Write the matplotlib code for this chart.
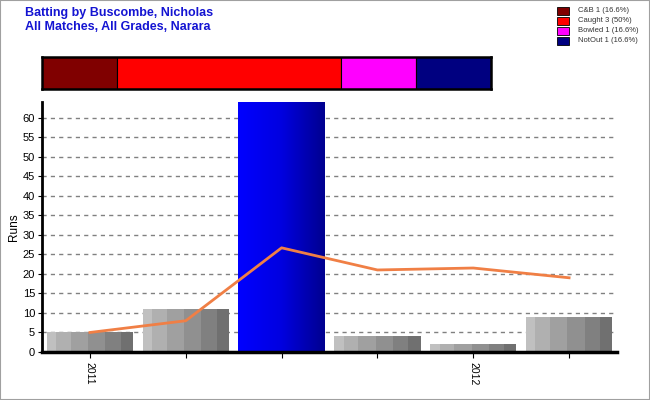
import numpy as np
import matplotlib
matplotlib.use("Agg")
import matplotlib.pyplot as plt
from matplotlib.patches import Rectangle
from matplotlib.colors import LinearSegmentedColormap, ListedColormap

plt.rcParams['font.family'] = ['Liberation Sans', 'DejaVu Sans']

# ---- data ----
innings_labels = ["2011", "", "", "", "2012", ""]
runs = [5, 11, 64, 4, 2, 9]
average = [5, 8, 26.67, 21, 21.5, 19]
dismissal_types = ["C&B", "Caught", "Bowled", "NotOut"]
dismissal_counts = [1, 3, 1, 1]
dismissal_pcts = ["16.6%", "50%", "16.6%", "16.6%"]
dismissal_colors = ["#800000", "#ff0000", "#ff00ff", "#000080"]
title_lines = ["Batting by Buscombe, Nicholas", "All Matches, All Grades, Narara"]

fig = plt.figure(figsize=(6.5, 4.0), dpi=100)
fig.patch.set_facecolor("white")
fig.add_artist(Rectangle((0, 0), 1, 1, transform=fig.transFigure, fill=False,
                         edgecolor="#a0a0a0", linewidth=1.5))

# ---- titles ----
title_font = ['Liberation Sans Narrow', 'Liberation Sans', 'DejaVu Sans']
fig.text(25/650, 1 - 13/400, title_lines[0], color="#1414d2", fontsize=9,
         fontweight="bold", family=title_font, va="center", ha="left")
fig.text(25/650, 1 - 27/400, title_lines[1], color="#1414d2", fontsize=9,
         fontweight="bold", family=title_font, va="center", ha="left")

# ---- legend ----
for i, (t, c, p, col) in enumerate(zip(dismissal_types, dismissal_counts, dismissal_pcts, dismissal_colors)):
    yc = 11 + i * 10
    fig.add_artist(Rectangle((557/650, 1 - (yc + 4)/400), 12/650, 8/400,
                             transform=fig.transFigure, facecolor=col,
                             edgecolor="black", linewidth=0.6))
    fig.text(578/650, 1 - yc/400, f"{t} {c} ({p})", fontsize=5.5,
             va="center", ha="left", color="#333333")

# ---- stacked dismissal bar ----
axs = fig.add_axes([42/650, 1 - 89/400, 449/650, 32/400])
left = 0
for c, col in zip(dismissal_counts, dismissal_colors):
    axs.barh(0, c, left=left, color=col, edgecolor="black", linewidth=0.8, height=1.0)
    left += c
axs.set_xlim(0, sum(dismissal_counts))
axs.set_ylim(-0.5, 0.5)
axs.set_xticks([]); axs.set_yticks([])
for s in axs.spines.values():
    s.set_linewidth(1.8)

# ---- main chart ----
ax = fig.add_axes([42/650, 48/400, 575/650, 250/400])
x = np.arange(len(runs))
ymax = 64
ax.set_yticks(np.arange(0, 61, 5))
ax.yaxis.grid(True, linestyle=(0, (3, 3)), color="#808080", linewidth=1.0)
ax.set_axisbelow(True)

gray_cmap = ListedColormap(["#c0c0c0", "#b0b0b0", "#a0a0a0", "#909090", "#808080", "#707070"])
blue_cmap = LinearSegmentedColormap.from_list("b", ["#0000ff", "#0000e0", "#000090"])
grad_blue = np.linspace(0, 1, 64).reshape(1, -1)
max_i = int(np.argmax(runs))
bars = ax.bar(x, runs, width=0.9, color="none", edgecolor="none", zorder=2)
for i, b in enumerate(bars):
    bx, by = b.get_x(), b.get_y()
    w, h = b.get_width(), b.get_height()
    if i == max_i:
        ax.imshow(grad_blue, cmap=blue_cmap, aspect="auto",
                  extent=(bx, bx + w, by, by + h), zorder=2, interpolation="bilinear")
    else:
        edges = np.array([0, 0.11, 0.28, 0.48, 0.68, 0.86, 1.0])
        cols = gray_cmap.colors
        for k in range(6):
            ax.add_patch(Rectangle((bx + edges[k]*w, by), (edges[k+1]-edges[k])*w, h,
                                   facecolor=cols[k], edgecolor="none", zorder=2))
ax.set_xlim(-0.5, len(runs) - 0.5)
ax.set_ylim(0, ymax)

ax.plot(x, average, color="#f07f45", linewidth=2, zorder=3)

ax.set_xticks(x)
ax.set_xticklabels(innings_labels, rotation=270, fontsize=7.5)
ax.tick_params(axis="y", labelsize=8, length=3, width=0.8, pad=2)
ax.tick_params(axis="x", length=4, width=0.8, pad=3)
ax.set_ylabel("Runs", fontsize=8.5, labelpad=2)

for s in ["top", "right"]:
    ax.spines[s].set_visible(False)
ax.spines["left"].set_linewidth(2)
ax.spines["bottom"].set_linewidth(2.5)

fig.savefig("out.png", dpi=100)
